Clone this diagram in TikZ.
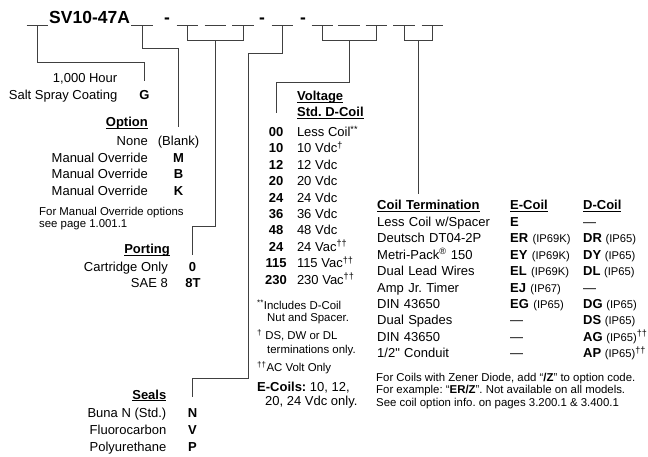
\documentclass[tikz,border=0pt]{standalone}
\usepackage{fontspec}
\setmainfont{Liberation Sans}
\usetikzlibrary{matrix,positioning}

\newcommand\headsize{\fontsize{17.5}{20}\selectfont}
\newcommand\mainsize{\fontsize{13}{15}\selectfont}
\newcommand\notesize{\fontsize{11.4}{13}\selectfont}
\newcommand\ipsize{\fontsize{11.2}{13}\selectfont}
\newcommand\uhead[1]{\setbox0\hbox{\bfseries #1}\rlap{\rule[-2pt]{\wd0}{0.9pt}}\box0}
\newcommand\ip[1]{{\ipsize(IP#1)}}
\newcommand\dg{\textsuperscript{\dag}}
\newcommand\ddg{\textsuperscript{\dag\dag}}
\frenchspacing

\begin{document}
\begin{tikzpicture}[x=1pt,y=-1pt,
    every node/.style={inner sep=0pt,font=\mainsize,text=black},
    entry/.style={anchor=base east},
    descr/.style={anchor=base west},
    codeno/.style={anchor=base,font=\mainsize\bfseries},
    notetxt/.style={anchor=base west,font=\notesize},
    slot/.style={minimum width=21.5pt,minimum height=0pt},
    lead/.style={draw=black!75,line width=1pt}]
  \useasboundingbox (0,0) rectangle (648,457);

  \foreach \name/\x in {s0/37.5,s1/142,s2/187.5,s3/215.5,s4/243,s5/282.5,s6/322.5,s7/349,s8/376.5,s9/404,s10/432.5}
  {
    \node (\name) [slot] at (\x,26) {};
    \draw [lead] (\name.west) -- (\name.east);
  }
  \node (model) [anchor=base west,font=\headsize\bfseries] at (49,24) {SV10-47A};
  \foreach \name/\x in {d1/167,d2/262,d3/303}
    \node (\name) [anchor=base,font=\headsize\bfseries] at (\x,24) {-};

  \node (hour) [entry] at (117.5,83) {1,000 Hour};
  \node (salt) [entry] at (117.5,100) {Salt Spray Coating};
  \node (G) [codeno] at (144.5,100) {G};

  \node (opt) [entry] at (148,127) {\uhead{Option}};
  \node (none) [entry] at (148,146) {None};
  \node (blank) [anchor=base] at (178.5,146) {(Blank)};
  \foreach \y/\c in {162.5/M,179/B,195.5/K}
  {
    \node (man\c) [entry] at (148,\y) {Manual Override};
    \node (opt\c) [codeno] at (178.5,\y) {\c};
  }
  \node (mo1) [notetxt] at (39,216) {For Manual Override options};
  \node (mo2) [notetxt] at (39,228) {see page 1.001.1};

  \node (port) [entry] at (170,254) {\uhead{Porting}};
  \node (cart) [entry] at (168,271) {Cartridge Only};
  \node (p0) [codeno] at (192.5,271) {0};
  \node (sae) [entry] at (168,287.5) {SAE 8};
  \node (p8T) [codeno] at (193,287.5) {8T};

  \node (seals) [entry] at (166.5,399) {\uhead{Seals}};
  \foreach \y/\t/\c in {417/Buna N (Std.)/N,434/Fluorocarbon/V,451/Polyurethane/P}
  {
    \node (seal\c txt) [entry] at (166.5,\y) {\t};
    \node (seal\c) [codeno] at (192.5,\y) {\c};
  }

  \node (volt) [descr] at (297,101) {\uhead{Voltage}};
  \node (std) [descr] at (297,117) {\uhead{Std. D-Coil}};
  \matrix (vt) [matrix of nodes,matrix anchor=vt-1-1.base,row sep=3.4pt,column sep=10pt,
    nodes={text height=10pt,text depth=3pt},
    column 1/.style={nodes={font=\mainsize\bfseries,text width=22pt,align=center,anchor=base}},
    column 2/.style={nodes={anchor=base west}}] at (276,136.5)
  {
    00  & Less Coil\textsuperscript{**} \\
    10  & 10 Vdc\dg \\
    12  & 12 Vdc \\
    20  & 20 Vdc \\
    24  & 24 Vdc \\
    36  & 36 Vdc \\
    48  & 48 Vdc \\
    24  & 24 Vac\ddg \\
    115 & 115 Vac\ddg \\
    230 & 230 Vac\ddg \\
  };

  \node (fn1) [notetxt] at (257,309) {\textsuperscript{**}Includes D-Coil};
  \node (fn1b) [notetxt] at (267,321) {Nut and Spacer.};
  \node (fn2) [notetxt] at (257,339) {\textsuperscript{\dag} DS, DW or DL};
  \node (fn2b) [notetxt] at (267,353) {terminations only.};
  \node (fn3) [notetxt] at (257,371) {\textsuperscript{\dag\dag}AC Volt Only};
  \node (ecoil) [descr] at (257,391.5) {\textbf{E-Coils:} 10, 12,};
  \node (ecoilb) [descr] at (265,405.5) {20, 24 Vdc only.};

  \matrix (ct) [matrix of nodes,matrix anchor=ct-1-1.base west,row sep=3.4pt,column sep=0pt,
    nodes={anchor=base west,text height=10pt,text depth=3pt},
    column 1/.style={nodes={text width=133pt}},
    column 2/.style={nodes={text width=73pt}}] at (377,209.5)
  {
    \uhead{Coil Termination} & \uhead{E-Coil} & \uhead{D-Coil} \\[0.6pt]
    Less Coil w/Spacer & \textbf{E} & --- \\
    Deutsch DT04-2P & \textbf{ER} \ip{69K} & \textbf{DR} \ip{65} \\
    Metri-Pack\textsuperscript{\textregistered} 150 & \textbf{EY} \ip{69K} & \textbf{DY} \ip{65} \\
    Dual Lead Wires & \textbf{EL} \ip{69K} & \textbf{DL} \ip{65} \\
    Amp Jr. Timer & \textbf{EJ} \ip{67} & --- \\
    DIN 43650 & \textbf{EG} \ip{65} & \textbf{DG} \ip{65} \\
    Dual Spades & --- & \textbf{DS} \ip{65} \\
    DIN 43650 & --- & \textbf{AG} \ip{65}\ddg \\
    1/2\textquotedbl{} Conduit & --- & \textbf{AP} \ip{65}\ddg \\
  };

  \node (zen1) [notetxt] at (376,381) {For Coils with Zener Diode, add “\textbf{/Z}” to option code.};
  \node (zen2) [notetxt] at (376,393.5) {For example: “\textbf{ER/Z}”. Not available on all models.};
  \node (zen3) [notetxt] at (376,406) {See coil option info. on pages 3.200.1 \& 3.400.1};

  \draw [lead,shorten >=9.5pt] (s0.south) -- ++(0,36) -| (G.north);
  \draw [lead,shorten >=9pt] (s1.south) -- ++(0,22) -| (blank.north);
  \draw [lead] (s2.south) -- ++(0,14) -| coordinate[pos=0.25] (portbr) (s4.south);
  \draw [lead,shorten >=6.5pt] (portbr) -- ++(0,186) -| (p0.north);
  \draw [lead,shorten >=10.5pt] (s5.south) -- ++(0,27) -- ++(-34.5,0) -- ++(0,325) -| (sealN.north);
  \draw [lead] (s6.south) -- ++(0,14) -| coordinate[pos=0.25] (voltbr) (s8.south);
  \draw [lead,shorten >=13.5pt] (voltbr) -- ++(0,42) -| (vt-1-1.north);
  \draw [lead] (s9.south) -- ++(0,14) -| coordinate[pos=0.25] (coilbr) (s10.south);
  \draw [lead,shorten >=5pt] (coilbr) -- (coilbr |- ct-1-1.north);
\end{tikzpicture}
\end{document}
